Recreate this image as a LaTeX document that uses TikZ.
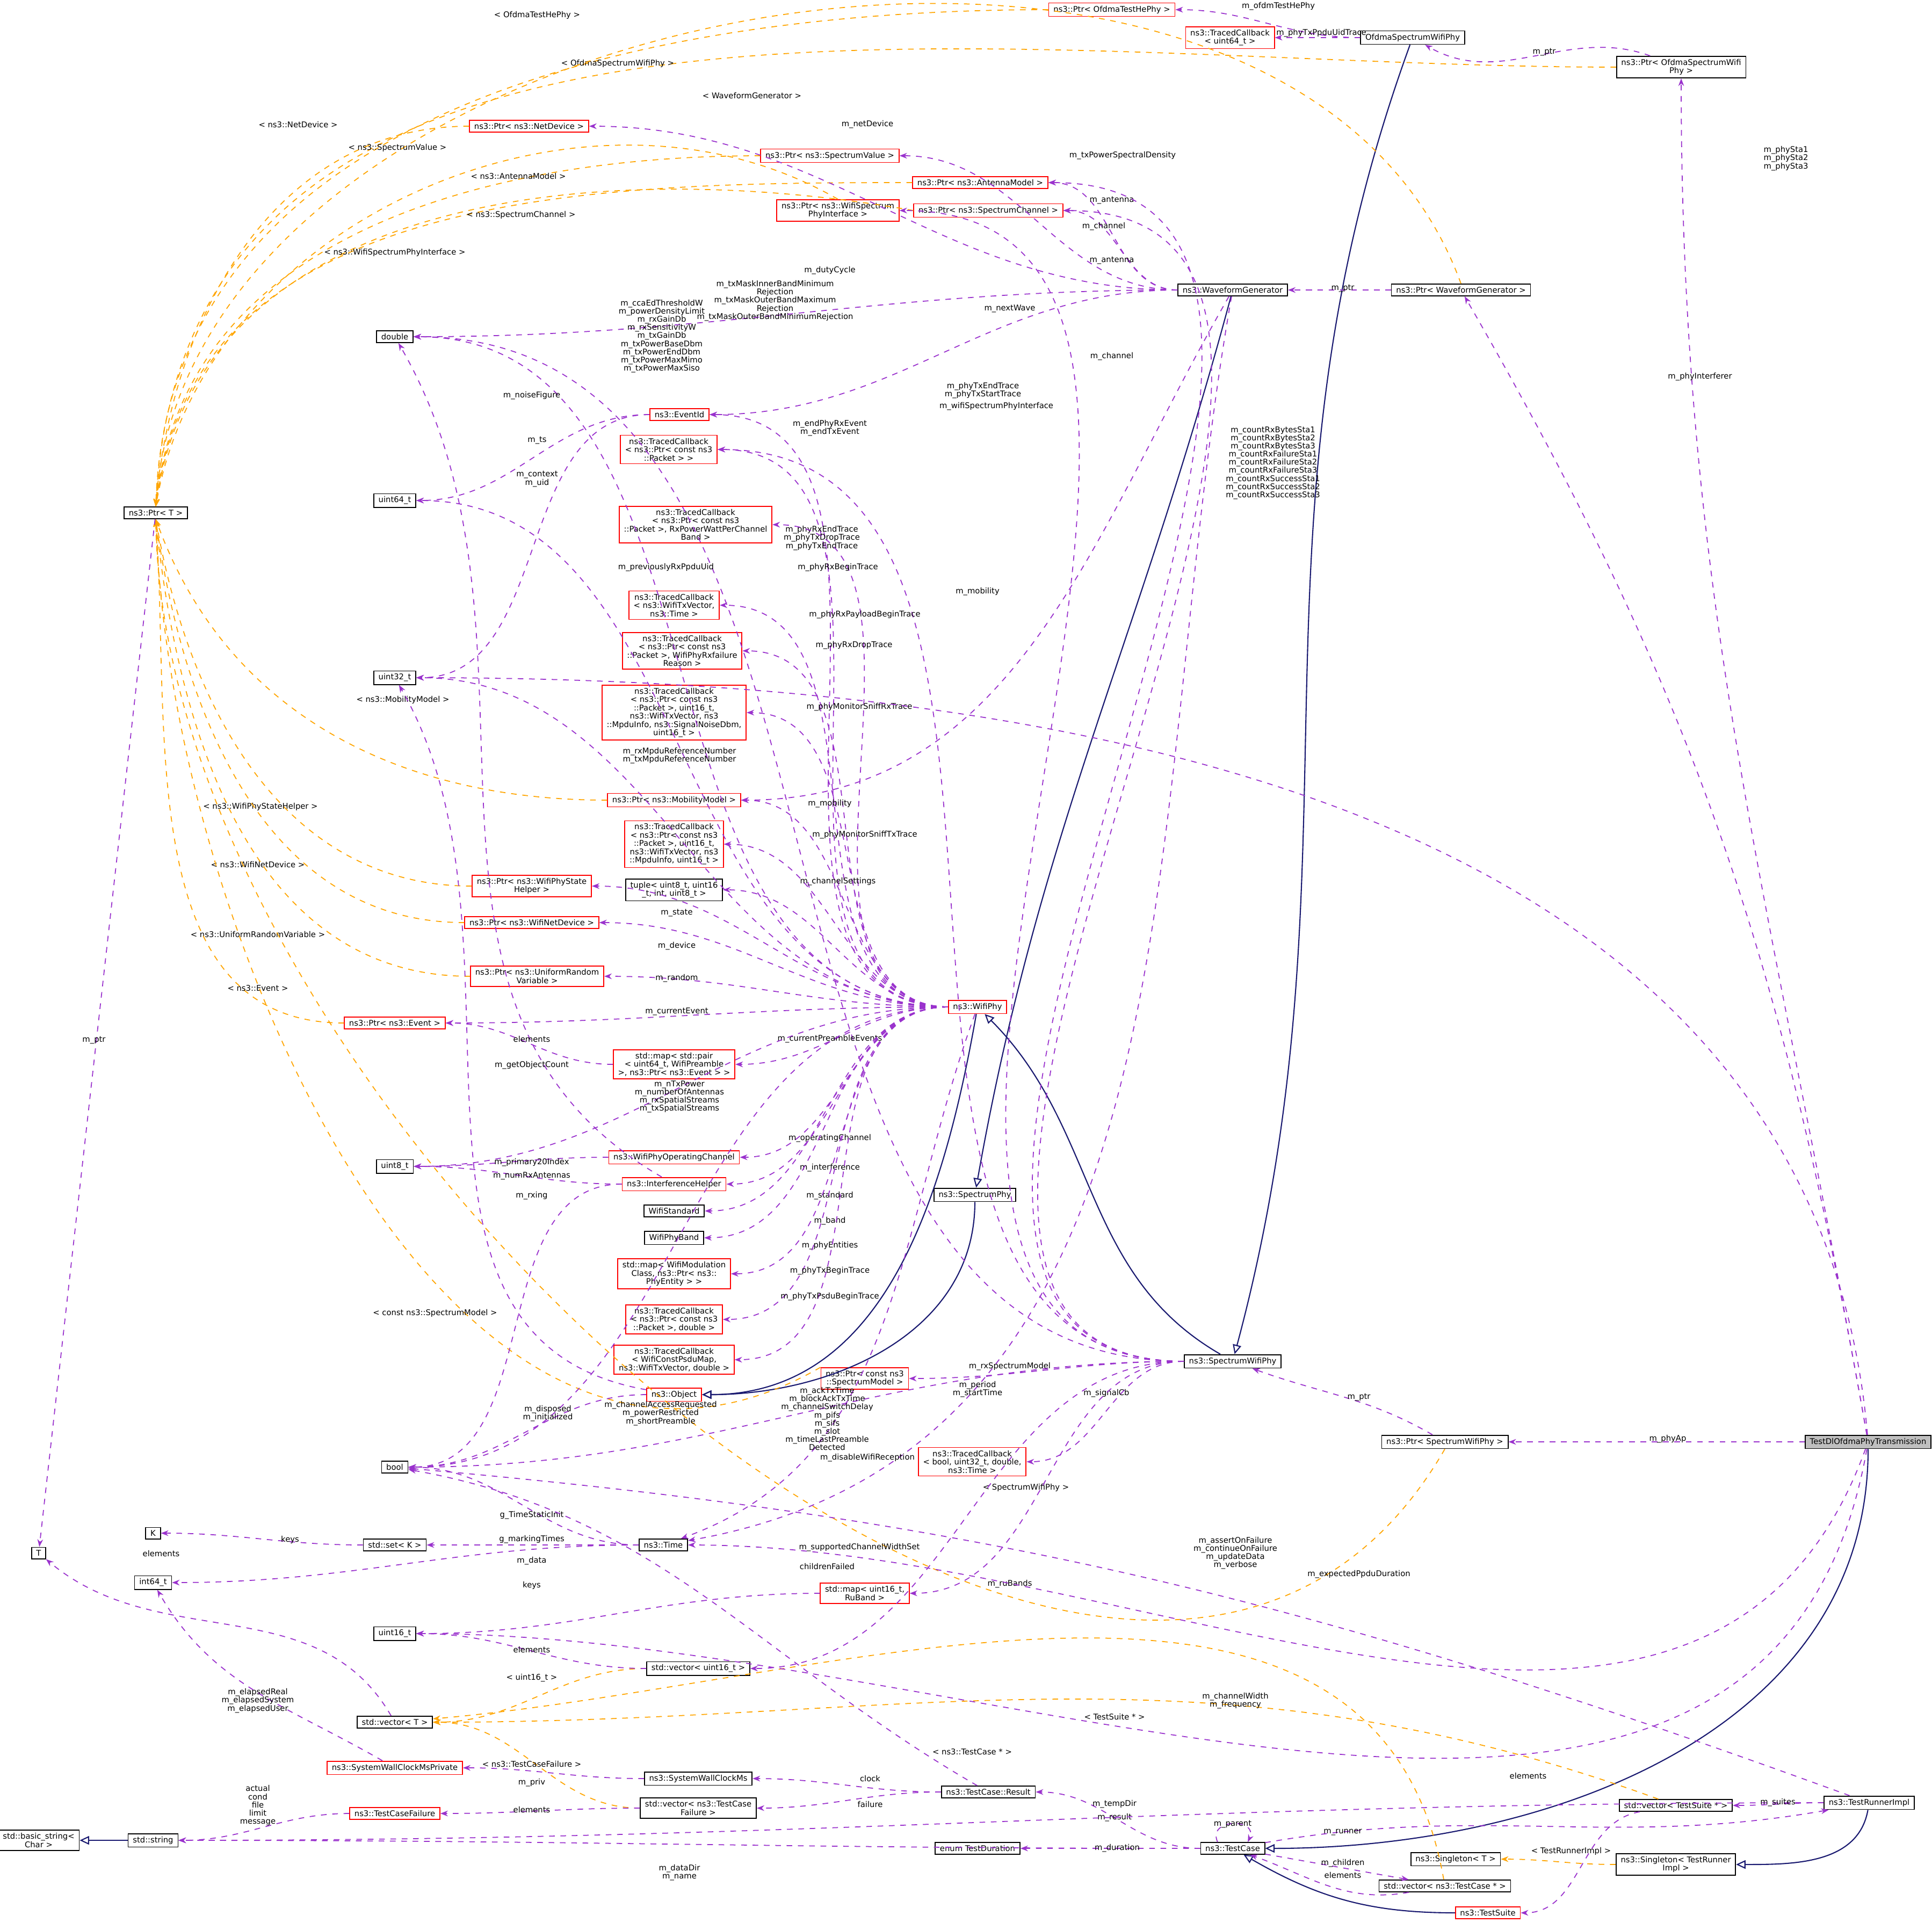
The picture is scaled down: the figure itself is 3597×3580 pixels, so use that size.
\documentclass[tikz,border=0pt]{standalone}
\usepackage{fontspec}
\setmainfont{DejaVu Sans}
\usetikzlibrary{arrows.meta}
\definecolor{pur}{HTML}{9A32CD}
\definecolor{org}{HTML}{FFA500}
\definecolor{nav}{HTML}{191970}
\newcounter{lc}
\newcommand\dl[5][dep]{\draw[#1] (#2) to[out=180,in=0] (#3);\stepcounter{lc}\node[lab] (lab\thelc) at (#4) {#5};}
\newcommand\ds[5][dep]{\draw[#1] (#2) -- (#3);\stepcounter{lc}\node[lab] (lab\thelc) at (#4) {#5};}
\newcommand\dg[6][dep]{\draw[#1] (#2) to[#6] (#3);\stepcounter{lc}\node[lab] (lab\thelc) at (#4) {#5};}
\tikzset{
 bx/.style={draw=black,line width=0.5pt,fill=white,inner xsep=2.5pt,inner ysep=1.5pt,minimum height=6pt,align=center,font=\fontsize{4.2}{4.4}\selectfont},
 rb/.style={bx,draw=red},
 gb/.style={bx,fill=black!25},
 lab/.style={align=center,font=\fontsize{4.2}{4.3}\selectfont,inner sep=0.5pt},
 dep/.style={pur,dashed,line width=0.5pt,-{Stealth[length=4pt,width=3pt]}},
 tpl/.style={org,dashed,line width=0.5pt,-{Stealth[length=4pt,width=3pt]}},
 inh/.style={nav,line width=0.6pt,-{Triangle[open,length=5pt,width=4.5pt]}}
}
\begin{document}
\begin{tikzpicture}[x=0.01cm,y=-0.01cm]
\useasboundingbox[fill=white] (0,0) rectangle (3597,3580);
% nodes
\node[rb] (phe) at (2070,18) {ns3::Ptr< OfdmaTestHePhy >};
\node[bx] (osw) at (2630,70) {OfdmaSpectrumWifiPhy};
\node[rb] (tcu) at (2290,70) {ns3::TracedCallback\\< uint64\_t >};
\node[bx] (posw) at (3130,125) {ns3::Ptr< OfdmaSpectrumWifi\\Phy >};
\node[rb] (pnd) at (985,235) {ns3::Ptr< ns3::NetDevice >};
\node[rb] (psv) at (1545,290) {ns3::Ptr< ns3::SpectrumValue >};
\node[rb] (pam) at (1825,340) {ns3::Ptr< ns3::AntennaModel >};
\node[rb] (pwspi) at (1560,392) {ns3::Ptr< ns3::WifiSpectrum\\PhyInterface >};
\node[rb] (psc) at (1840,392) {ns3::Ptr< ns3::SpectrumChannel >};
\node[bx] (wg) at (2295,540) {ns3::WaveformGenerator};
\node[bx] (pwg) at (2720,540) {ns3::Ptr< WaveformGenerator >};
\node[bx] (dbl) at (735,627) {double};
\node[rb] (eid) at (1265,772) {ns3::EventId};
\node[rb] (tcp) at (1245,837) {ns3::TracedCallback\\< ns3::Ptr< const ns3\\::Packet > >};
\node[bx] (ptrt) at (290,955) {ns3::Ptr< T >};
\node[bx] (u64) at (735,932) {uint64\_t};
\node[rb] (tcrx) at (1295,977) {ns3::TracedCallback\\< ns3::Ptr< const ns3\\::Packet >, RxPowerWattPerChannel\\Band >};
\node[rb] (tctv) at (1255,1127) {ns3::TracedCallback\\< ns3::WifiTxVector,\\ns3::Time >};
\node[rb] (tcrf) at (1270,1212) {ns3::TracedCallback\\< ns3::Ptr< const ns3\\::Packet >, WifiPhyRxfailure\\Reason >};
\node[bx] (u32) at (735,1262) {uint32\_t};
\node[rb] (tcms) at (1255,1327) {ns3::TracedCallback\\< ns3::Ptr< const ns3\\::Packet >, uint16\_t,\\ns3::WifiTxVector, ns3\\::MpduInfo, ns3::SignalNoiseDbm,\\uint16\_t >};
\node[rb] (pmm) at (1255,1490) {ns3::Ptr< ns3::MobilityModel >};
\node[rb] (tcmt) at (1255,1572) {ns3::TracedCallback\\< ns3::Ptr< const ns3\\::Packet >, uint16\_t,\\ns3::WifiTxVector, ns3\\::MpduInfo, uint16\_t >};
\node[bx] (tup) at (1255,1657) {tuple< uint8\_t, uint16\\\_t, int, uint8\_t >};
\node[rb] (psh) at (990,1650) {ns3::Ptr< ns3::WifiPhyState\\Helper >};
\node[rb] (pwnd) at (990,1718) {ns3::Ptr< ns3::WifiNetDevice >};
\node[rb] (purv) at (1000,1818) {ns3::Ptr< ns3::UniformRandom\\Variable >};
\node[rb] (pev) at (735,1905) {ns3::Ptr< ns3::Event >};
\node[rb] (mcpe) at (1255,1982) {std::map< std::pair\\< uint64\_t, WifiPreamble\\>, ns3::Ptr< ns3::Event > >};
\node[rb] (wp) at (1820,1875) {ns3::WifiPhy};
\node[bx] (u8) at (735,2172) {uint8\_t};
\node[rb] (woc) at (1255,2155) {ns3::WifiPhyOperatingChannel};
\node[rb] (ih) at (1255,2205) {ns3::InterferenceHelper};
\node[bx] (wstd) at (1255,2255) {WifiStandard};
\node[bx] (wband) at (1255,2305) {WifiPhyBand};
\node[rb] (mpe) at (1255,2372) {std::map< WifiModulation\\Class, ns3::Ptr< ns3::\\PhyEntity > >};
\node[rb] (tcd) at (1255,2457) {ns3::TracedCallback\\< ns3::Ptr< const ns3\\::Packet >, double >};
\node[rb] (tcps) at (1255,2532) {ns3::TracedCallback\\< WifiConstPsduMap,\\ns3::WifiTxVector, double >};
\node[rb] (obj) at (1255,2597) {ns3::Object};
\node[bx] (sp) at (1815,2225) {ns3::SpectrumPhy};
\node[rb] (psm) at (1610,2567) {ns3::Ptr< const ns3\\::SpectrumModel >};
\node[bx] (swp) at (2295,2535) {ns3::SpectrumWifiPhy};
\node[rb] (tcb) at (1810,2722) {ns3::TracedCallback\\< bool, uint32\_t, double,\\ns3::Time >};
\node[bx] (pswp) at (2690,2685) {ns3::Ptr< SpectrumWifiPhy >};
\node[gb] (tdl) at (3478,2685) {TestDlOfdmaPhyTransmission};
\node[bx] (bool) at (735,2732) {bool};
\node[bx] (K) at (285,2855) {K};
\node[bx] (setk) at (735,2877) {std::set< K >};
\node[bx] (time) at (1235,2877) {ns3::Time};
\node[bx] (T) at (72,2892) {T};
\node[bx] (i64) at (285,2947) {int64\_t};
\node[rb] (mrb) at (1610,2967) {std::map< uint16\_t,\\RuBand >};
\node[bx] (u16) at (735,3042) {uint16\_t};
\node[bx] (vu16) at (1300,3107) {std::vector< uint16\_t >};
\node[bx] (vt) at (735,3207) {std::vector< T >};
\node[rb] (swcp) at (735,3292) {ns3::SystemWallClockMsPrivate};
\node[bx] (swc) at (1300,3312) {ns3::SystemWallClockMs};
\node[bx] (res) at (1840,3337) {ns3::TestCase::Result};
\node[bx] (vtcf) at (1300,3367) {std::vector< ns3::TestCase\\Failure >};
\node[rb] (tcf) at (735,3377) {ns3::TestCaseFailure};
\node[bx] (bstr) at (72,3427) {std::basic\_string<\\Char >};
\node[bx] (str) at (285,3427) {std::string};
\node[bx] (etd) at (1820,3442) {enum TestDuration};
\node[bx] (tc) at (2295,3442) {ns3::TestCase};
\node[bx] (vts) at (3120,3362) {std::vector< TestSuite * >};
\node[bx] (tri) at (3480,3357) {ns3::TestRunnerImpl};
\node[bx] (sgt) at (2710,3462) {ns3::Singleton< T >};
\node[bx] (sgr) at (3120,3472) {ns3::Singleton< TestRunner\\Impl >};
\node[bx] (vtc) at (2690,3512) {std::vector< ns3::TestCase * >};
\node[rb] (ts) at (2770,3562) {ns3::TestSuite};
% inheritance
\draw[inh] (osw) to[out=-110,in=75] (swp);
\draw[inh] (wg) to[out=-105,in=80] (sp);
\draw[inh] (swp) to[out=150,in=-45] (wp);
\draw[inh] (wp) to[out=-100,in=0] (obj);
\draw[inh] (sp) to[out=-90,in=0] (obj);
\draw[inh] (tdl) to[out=-90,in=0] (tc);
\draw[inh] (ts) to[out=180,in=-30] (tc);
\draw[inh] (str) -- (bstr);
\draw[inh] (tri) to[out=-100,in=0] (sgr);
% templates (to Ptr<T>)
\dg[tpl]{phe.west}{ptrt.north}{1000,28}{< OfdmaTestHePhy >}{out=180,in=88}
\dg[tpl]{posw.west}{ptrt.north}{1150,118}{< OfdmaSpectrumWifiPhy >}{out=180,in=87}
\dg[tpl]{pwg.north}{ptrt.north}{1400,178}{< WaveformGenerator >}{out=110,in=86}
\dg[tpl]{pnd.west}{ptrt.north}{555,232}{< ns3::NetDevice >}{out=180,in=85}
\dg[tpl]{psv.west}{ptrt.north}{740,275}{< ns3::SpectrumValue >}{out=180,in=84}
\dg[tpl]{pam.west}{ptrt.north}{965,328}{< ns3::AntennaModel >}{out=180,in=83}
\dg[tpl]{psc.west}{ptrt.north}{970,400}{< ns3::SpectrumChannel >}{out=170,in=82}
\dg[tpl]{pwspi.north}{ptrt.north}{735,470}{< ns3::WifiSpectrumPhyInterface >}{out=150,in=80}
\dg[tpl]{pmm.west}{ptrt.south}{750,1303}{< ns3::MobilityModel >}{out=180,in=-70}
\dg[tpl]{psh.west}{ptrt.south}{485,1502}{< ns3::WifiPhyStateHelper >}{out=180,in=-80}
\dg[tpl]{pwnd.west}{ptrt.south}{480,1610}{< ns3::WifiNetDevice >}{out=180,in=-82}
\dg[tpl]{purv.west}{ptrt.south}{480,1740}{< ns3::UniformRandomVariable >}{out=180,in=-84}
\dg[tpl]{pev.west}{ptrt.south}{480,1840}{< ns3::Event >}{out=180,in=-86}
\dg[tpl]{psm.north west}{ptrt.south}{810,2445}{< const ns3::SpectrumModel >}{out=-150,in=-88}
\dg[tpl]{pswp.south}{ptrt.south}{1910,2770}{< SpectrumWifiPhy >}{out=-120,in=-89}
\dl[tpl]{vu16}{vt}{990,3125}{< uint16\_t >}
\dl[tpl]{vtcf}{vt}{990,3285}{< ns3::TestCaseFailure >}
\dg[tpl]{vts}{vt}{2075,3197}{< TestSuite * >}{out=160,in=0}
\dg[tpl]{vtc}{vt}{1810,3262}{< ns3::TestCase * >}{out=100,in=5}
\dl[tpl]{sgr}{sgt}{2925,3447}{< TestRunnerImpl >}
% dependencies
\dl{osw}{phe}{2380,12}{m\_ofdmTestHePhy}
\dl{osw}{tcu}{2460,62}{m\_phyTxPpduUidTrace}
\dg{posw}{osw}{2875,97}{m\_ptr}{out=160,in=-30}
\dl{wg}{pnd}{1615,232}{m\_netDevice}
\dl{wg}{psv}{2090,290}{m\_txPowerSpectralDensity}
\dl{wg}{pam}{2070,373}{m\_antenna}
\dl{wg}{psc}{2055,422}{m\_channel}
\dl{wg}{dbl}{1545,504}{m\_dutyCycle}
\dl{wg}{eid}{1880,575}{m\_nextWave}
\dg{wg}{pmm}{1820,1102}{m\_mobility}{out=-120,in=0}
\dg{wg}{time}{1820,2587}{m\_period\\m\_startTime}{out=-100,in=10}
\dl{pwg}{wg}{2500,537}{m\_ptr}
\dl{swp}{pam}{2070,485}{m\_antenna}
\dl{swp}{psc}{2070,664}{m\_channel}
\dl{swp}{pwspi}{1855,757}{m\_wifiSpectrumPhyInterface}
\dl{swp}{dbl}{1443,560}{m\_txMaskInnerBandMinimum\\Rejection\\m\_txMaskOuterBandMaximum\\Rejection\\m\_txMaskOuterBandMinimumRejection}
\dl{swp}{tcp}{1830,727}{m\_phyTxEndTrace\\m\_phyTxStartTrace}
\dl{swp}{psm}{1880,2545}{m\_rxSpectrumModel}
\dl{swp}{tcb}{2060,2595}{m\_signalCb}
\dl{swp}{bool}{1615,2715}{m\_disableWifiReception}
\dl{swp}{mrb}{1880,2950}{m\_ruBands}
\dl{swp}{vu16}{1600,2882}{m\_supportedChannelWidthSet}
\dg{pswp}{swp}{2530,2602}{m\_ptr}{out=150,in=-20}
\dl{wp}{dbl}{1232,626}{m\_ccaEdThresholdW\\m\_powerDensityLimit\\m\_rxGainDb\\m\_rxSensitivityW\\m\_txGainDb\\m\_txPowerBaseDbm\\m\_txPowerEndDbm\\m\_txPowerMaxMimo\\m\_txPowerMaxSiso}
\dl{wp}{eid}{1545,797}{m\_endPhyRxEvent\\m\_endTxEvent}
\dl{wp}{tcp}{1530,1002}{m\_phyRxEndTrace\\m\_phyTxDropTrace\\m\_phyTxEndTrace}
\dl{wp}{tcrx}{1560,1057}{m\_phyRxBeginTrace}
\dl{wp}{u64}{1240,1057}{m\_previouslyRxPpduUid}
\dl{wp}{tctv}{1610,1145}{m\_phyRxPayloadBeginTrace}
\dl{wp}{tcrf}{1590,1202}{m\_phyRxDropTrace}
\dl{wp}{tcms}{1600,1317}{m\_phyMonitorSniffRxTrace}
\dl{wp}{u32}{1265,1407}{m\_rxMpduReferenceNumber\\m\_txMpduReferenceNumber}
\dl{wp}{pmm}{1545,1497}{m\_mobility}
\dl{wp}{tcmt}{1610,1555}{m\_phyMonitorSniffTxTrace}
\dl{wp}{tup}{1560,1642}{m\_channelSettings}
\dl{wp}{psh}{1260,1700}{m\_state}
\dl{wp}{pwnd}{1260,1762}{m\_device}
\dl{wp}{purv}{1260,1822}{m\_random}
\dl{wp}{pev}{1260,1884}{m\_currentEvent}
\dl{wp}{mcpe}{1545,1935}{m\_currentPreambleEvents}
\dl{wp}{u8}{1265,2042}{m\_nTxPower\\m\_numberOfAntennas\\m\_rxSpatialStreams\\m\_txSpatialStreams}
\dl{wp}{woc}{1545,2120}{m\_operatingChannel}
\dl{wp}{ih}{1545,2175}{m\_interference}
\dl{wp}{wstd}{1545,2227}{m\_standard}
\dl{wp}{wband}{1545,2274}{m\_band}
\dl{wp}{mpe}{1545,2320}{m\_phyEntities}
\dl{wp}{tcd}{1545,2367}{m\_phyTxBeginTrace}
\dl{wp}{tcps}{1545,2415}{m\_phyTxPsduBeginTrace}
\dg{wp}{time}{1540,2642}{m\_ackTxTime\\m\_blockAckTxTime\\m\_channelSwitchDelay\\m\_pifs\\m\_sifs\\m\_slot\\m\_timeLastPreamble\\Detected}{out=-110,in=20}
\dl{wp}{bool}{1230,2632}{m\_channelAccessRequested\\m\_powerRestricted\\m\_shortPreamble}
\dl{eid}{u64}{1000,820}{m\_ts}
\dl{eid}{u32}{1000,892}{m\_context\\m\_uid}
\dg{ih}{dbl}{990,737}{m\_noiseFigure}{out=150,in=-60}
\dl{ih}{u8}{990,2190}{m\_numRxAntennas}
\dl{ih}{bool}{990,2227}{m\_rxing}
\dl{woc}{u8}{990,2165}{m\_primary20Index}
\dl{mcpe}{pev}{990,1935}{elements}
\dg{obj}{u32}{990,1984}{m\_getObjectCount}{out=170,in=-60}
\dl{obj}{bool}{1020,2632}{m\_disposed\\m\_initialized}
\dl{time}{bool}{990,2822}{g\_TimeStaticInit}
\dl{time}{setk}{990,2867}{g\_markingTimes}
\dl{time}{i64}{990,2907}{m\_data}
\dl{setk}{K}{540,2867}{keys}
\dg{vt}{T}{300,2893}{elements}{out=120,in=-40}
\ds{ptrt}{T}{175,1937}{m\_ptr}
\dl{mrb}{u16}{990,2952}{keys}
\dl{vu16}{u16}{990,3072}{elements}
\dg{swcp}{i64}{480,3167}{m\_elapsedReal\\m\_elapsedSystem\\m\_elapsedUser}{out=150,in=-60}
\dl{swc}{swcp}{990,3320}{m\_priv}
\dl{tcf}{str}{480,3362}{actual\\cond\\file\\limit\\message}
\dl{vtcf}{tcf}{990,3370}{elements}
\dl{res}{swc}{1620,3312}{clock}
\dl{res}{vtcf}{1620,3360}{failure}
\dg{res}{bool}{1540,2917}{childrenFailed}{out=150,in=-10}
\dl{tc}{res}{2075,3385}{m\_result}
\dl{tc}{str}{1265,3487}{m\_dataDir\\m\_name}
\dl{tc}{etd}{2080,3442}{m\_duration}
\dg{tc}{vtc}{2500,3470}{m\_children}{out=-10,in=170}
\dg{vtc}{tc}{2500,3492}{elements}{out=190,in=-20}
\dg{tc}{tri}{2500,3412}{m\_runner}{out=10,in=190}
\dl{tri}{str}{2075,3360}{m\_tempDir}
\dl{tri}{vts}{3310,3357}{m\_suites}
\dg{tri}{bool}{2300,2892}{m\_assertOnFailure\\m\_continueOnFailure\\m\_updateData\\m\_verbose}{out=160,in=-5}
\dg{vts}{ts}{2845,3307}{elements}{out=190,in=0}
\dg{tdl}{posw}{3325,295}{m\_phySta1\\m\_phySta2\\m\_phySta3}{out=100,in=-90}
\dg{tdl}{pwg}{3165,702}{m\_phyInterferer}{out=100,in=-60}
\dg{tdl}{u32}{2370,862}{m\_countRxBytesSta1\\m\_countRxBytesSta2\\m\_countRxBytesSta3\\m\_countRxFailureSta1\\m\_countRxFailureSta2\\m\_countRxFailureSta3\\m\_countRxSuccessSta1\\m\_countRxSuccessSta2\\m\_countRxSuccessSta3}{out=95,in=0}
\dl{tdl}{pswp}{3105,2680}{m\_phyAp}
\dg{tdl}{time}{2530,2932}{m\_expectedPpduDuration}{out=-110,in=0}
\dg{tdl}{u16}{2300,3167}{m\_channelWidth\\m\_frequency}{out=-100,in=0}
\draw[dep] ([xshift=-8pt]tc.north) .. controls +(-20,-45) and +(20,-45) .. ([xshift=8pt]tc.north);
\node[lab] (labpar) at (2295,3397) {m\_parent};
\end{tikzpicture}
\end{document}
